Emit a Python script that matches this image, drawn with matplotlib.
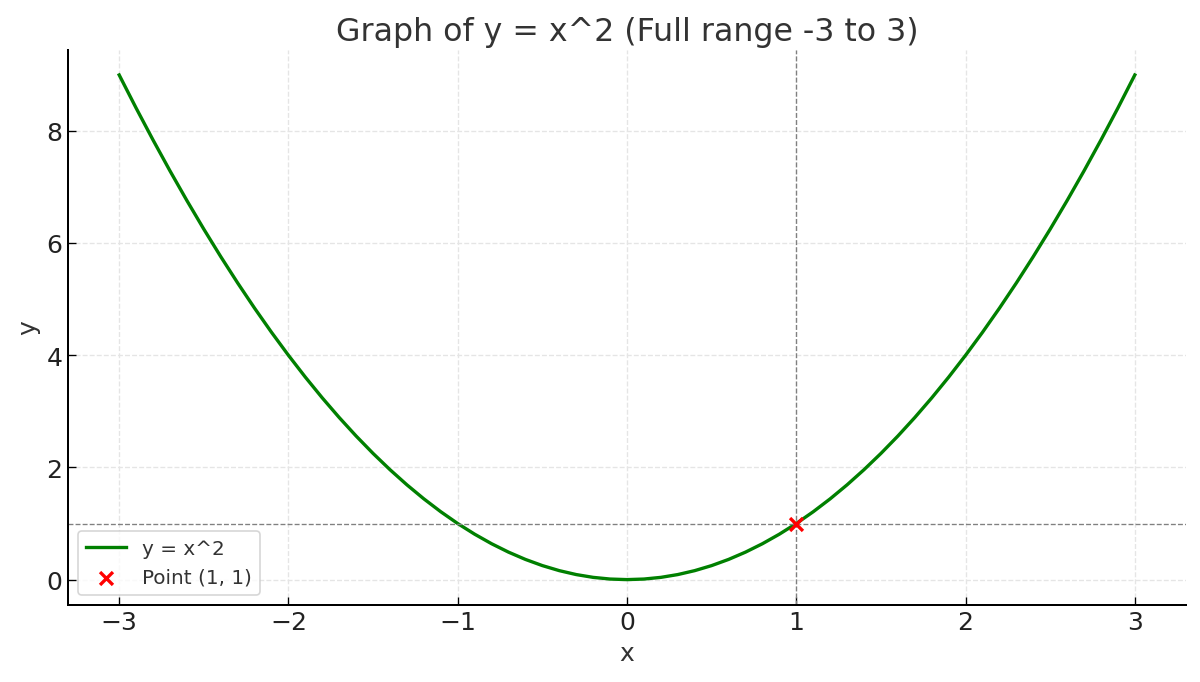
import numpy as np
import matplotlib
matplotlib.use("Agg")
import matplotlib.pyplot as plt

# values, step 0.1 from -3 to 3
x_vals = [-3.0, -2.9, -2.8, -2.7, -2.6, -2.5, -2.4, -2.3, -2.2, -2.1,
          -2.0, -1.9, -1.8, -1.7, -1.6, -1.5, -1.4, -1.3, -1.2, -1.1,
          -1.0, -0.9, -0.8, -0.7, -0.6, -0.5, -0.4, -0.3, -0.2, -0.1,
          0.0, 0.1, 0.2, 0.3, 0.4, 0.5, 0.6, 0.7, 0.8, 0.9,
          1.0, 1.1, 1.2, 1.3, 1.4, 1.5, 1.6, 1.7, 1.8, 1.9,
          2.0, 2.1, 2.2, 2.3, 2.4, 2.5, 2.6, 2.7, 2.8, 2.9, 3.0]
y_vals = [9.0, 8.41, 7.84, 7.29, 6.76, 6.25, 5.76, 5.29, 4.84, 4.41,
          4.0, 3.61, 3.24, 2.89, 2.56, 2.25, 1.96, 1.69, 1.44, 1.21,
          1.0, 0.81, 0.64, 0.49, 0.36, 0.25, 0.16, 0.09, 0.04, 0.01,
          0.0, 0.01, 0.04, 0.09, 0.16, 0.25, 0.36, 0.49, 0.64, 0.81,
          1.0, 1.21, 1.44, 1.69, 1.96, 2.25, 2.56, 2.89, 3.24, 3.61,
          4.0, 4.41, 4.84, 5.29, 5.76, 6.25, 6.76, 7.29, 7.84, 8.41, 9.0]
point_x = [1]
point_y = [1]

txt = '#333333'
plt.rcParams['font.family'] = 'DejaVu Sans'

fig, ax = plt.subplots(figsize=(10, 5.69), dpi=120)
fig.subplots_adjust(left=0.057, right=0.988, top=0.926, bottom=0.113)

ax.plot(x_vals, y_vals, color='green', lw=2, label='y = x^2')
ax.scatter(point_x, point_y, color='red', marker='x', s=60, lw=2, zorder=3, label='Point (1, 1)')
ax.axhline(1, color='gray', ls='--', lw=0.8)
ax.axvline(1, color='gray', ls='--', lw=0.8)

ax.grid(True, ls='--', color='#e5e5e5', lw=0.8)
ax.set_axisbelow(True)
for s in ['top', 'right']:
    ax.spines[s].set_visible(False)
for s in ['left', 'bottom']:
    ax.spines[s].set_linewidth(1.2)

ax.tick_params(direction='in', labelsize=15, labelcolor='#222222', length=5)
ax.set_title('Graph of y = x^2 (Full range -3 to 3)', fontsize=19, color=txt)
ax.set_xlabel('x', fontsize=15, color=txt)
ax.set_ylabel('y', fontsize=15, color=txt)

leg = ax.legend(loc='lower left', fontsize=12)
for t in leg.get_texts():
    t.set_color(txt)

fig.savefig('out.png', dpi=120)
